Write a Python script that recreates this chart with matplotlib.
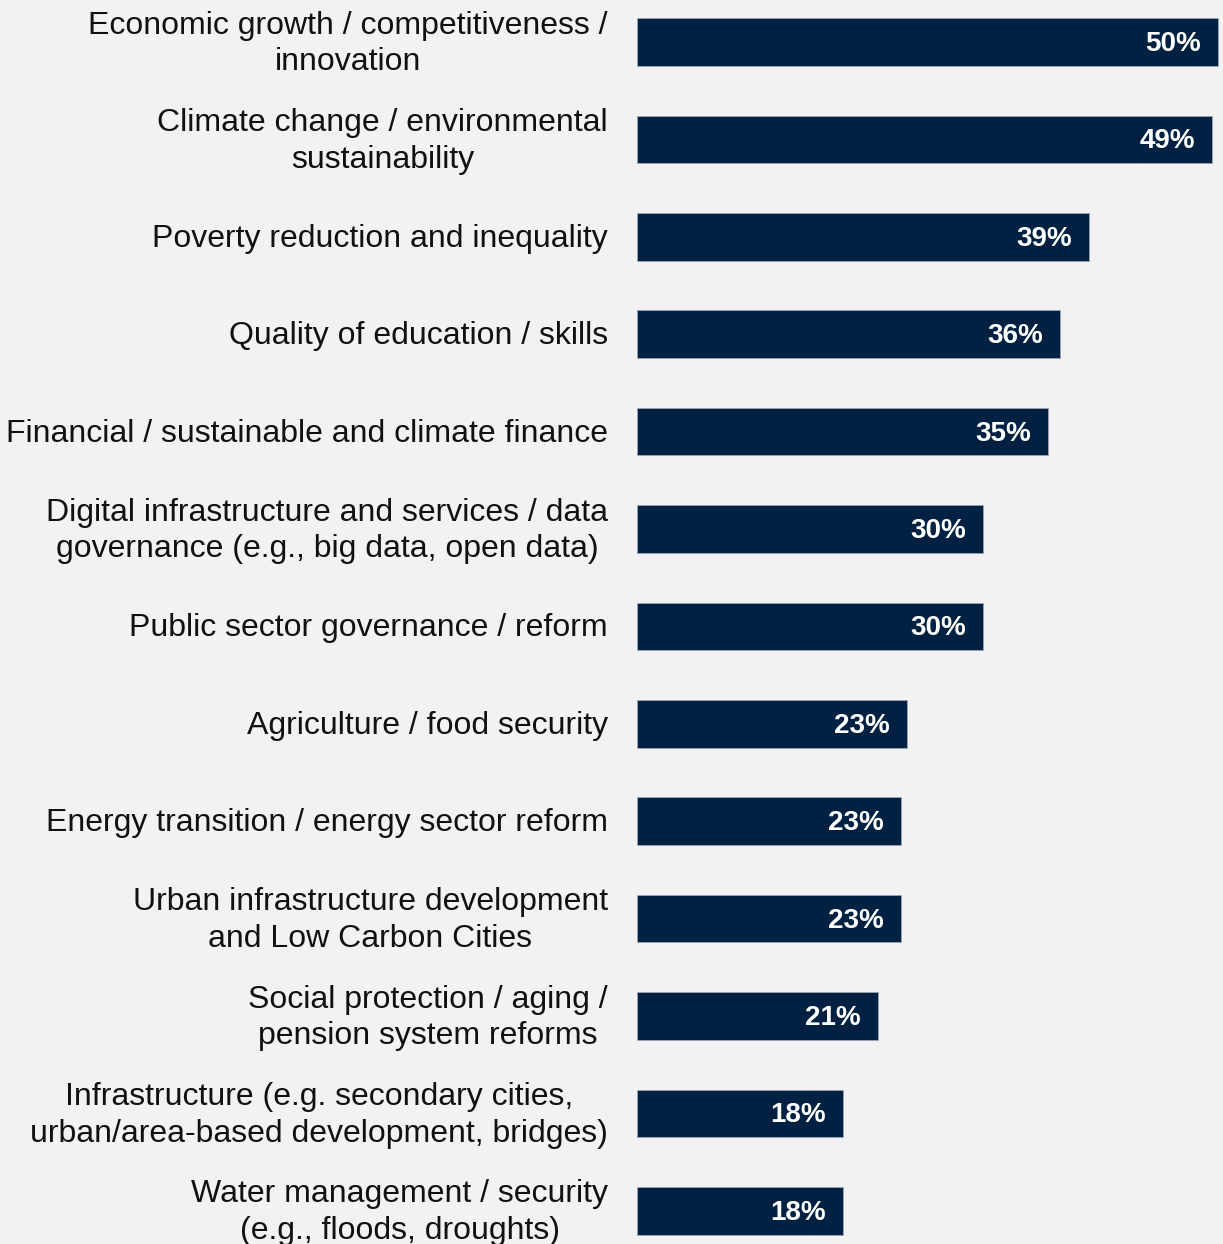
import matplotlib.pyplot as plt

plt.rcParams.update({"font.family": ["Liberation Sans", "DejaVu Sans"]})

BG = "#f2f2f2"
BAR = "#002142"

categories = [
    "Economic growth / competitiveness /\ninnovation",
    "Climate change / environmental\nsustainability",
    "Poverty reduction and inequality",
    "Quality of education / skills",
    "Financial / sustainable and climate finance",
    "Digital infrastructure and services / data\ngovernance (e.g., big data, open data)",
    "Public sector governance / reform",
    "Agriculture / food security",
    "Energy transition / energy sector reform",
    "Urban infrastructure development\nand Low Carbon Cities",
    "Social protection / aging /\npension system reforms",
    "Infrastructure (e.g. secondary cities,\nurban/area-based development, bridges)",
    "Water management / security\n(e.g., floods, droughts)",
]
# bar lengths (labels are the rounded figures)
values = [50.0, 49.5, 38.9, 36.4, 35.4, 29.8, 29.8, 23.2, 22.7, 22.7, 20.7, 17.7, 17.7]
value_labels = ["50%", "49%", "39%", "36%", "35%", "30%", "30%", "23%", "23%",
                "23%", "21%", "18%", "18%"]

W, H = 1223, 1244
fig = plt.figure(figsize=(W / 100, H / 100), dpi=100, facecolor=BG)
ax = fig.add_axes([637 / W, 0, 1 - 637 / W, 1])
ax.set_facecolor(BG)

pos = list(range(len(categories)))
ax.barh(pos, values, height=0.49, color=BAR, edgecolor="#9aa5b4", linewidth=0.6)

ax.set_xlim(0, 50.0 * (W - 637) / 581)
ax.set_ylim((H - 42) / 97.4, -42 / 97.4)
ax.axis("off")

for i, (v, lab, cat) in enumerate(zip(values, value_labels, categories)):
    ax.annotate(lab, (v, i), xytext=(-17, -2), textcoords="offset pixels",
                ha="right", va="center", color="white", fontsize=20,
                fontweight="bold")
    ax.annotate(cat, (0, i), xytext=(-29, -2), textcoords="offset pixels",
                ha="right", va="center", multialignment="center",
                color="#111111", fontsize=23, linespacing=1.3,
                annotation_clip=False)

fig.savefig("out.png", dpi=100, facecolor=BG)
